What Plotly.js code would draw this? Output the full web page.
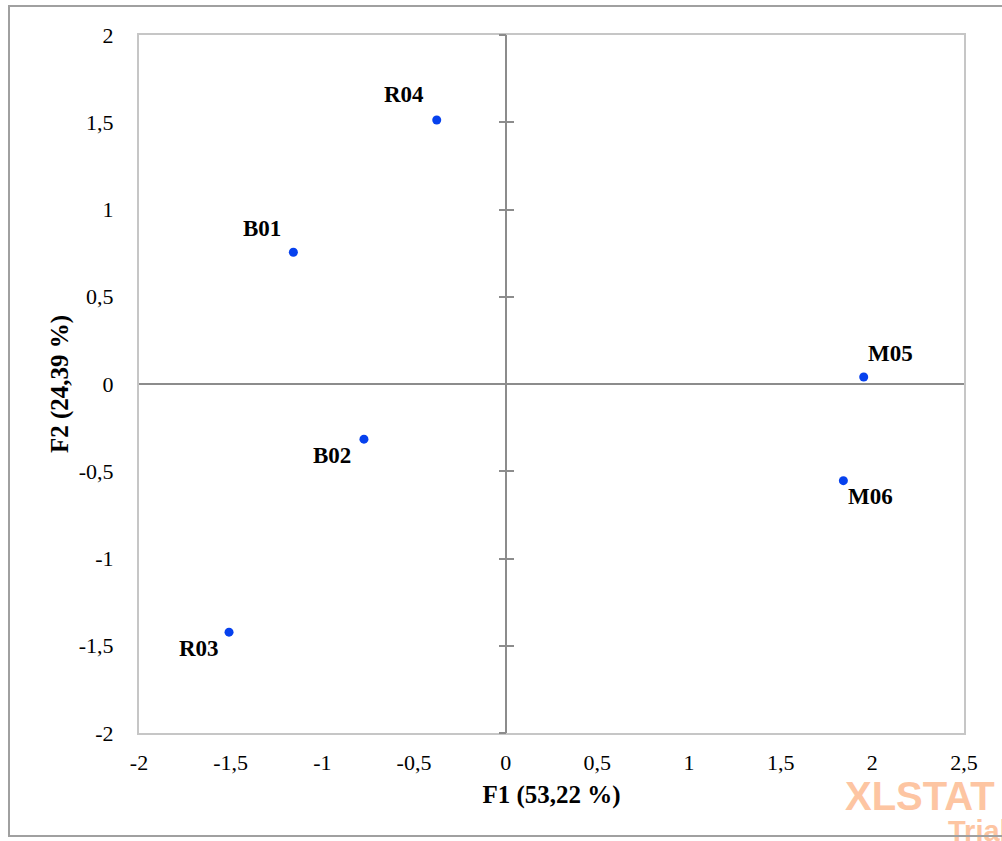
<!DOCTYPE html>
<html>
<head>
<meta charset="utf-8">
<script src="https://cdn.plot.ly/plotly-3.0.1.min.js"></script>
<style>
  html, body { margin: 0; padding: 0; background: #fff; }
  #frame { position: absolute; left: 8px; top: 5px; width: 1000px; height: 832px; border: 2px solid #a0a0a0; box-sizing: border-box; pointer-events: none; z-index: 2; }
  #chart { position: absolute; left: 0; top: 0; width: 1002px; height: 841px; }
</style>
</head>
<body>
<div id="chart"></div>
<div id="frame"></div>
<script>
// ---- data ----
const obsLabels = ["R04", "B01", "M05", "B02", "M06", "R03"];
const f1Values  = [-0.376, -1.158, 1.953, -0.773, 1.842, -1.509];
const f2Values  = [1.513, 0.755, 0.040, -0.316, -0.554, -1.422];

const xRange = [-2, 2.5];
const yRange = [-2, 2];
const xTickVals = [-2, -1.5, -1, -0.5, 0, 0.5, 1, 1.5, 2, 2.5];
const xTickText = ["-2", "-1,5", "-1", "-0,5", "0", "0,5", "1", "1,5", "2", "2,5"];
const yTickVals = [-2, -1.5, -1, -0.5, 0, 0.5, 1, 1.5, 2];
const yTickText = ["-2", "-1,5", "-1", "-0,5", "0", "0,5", "1", "1,5", "2"];

const xTitle = "F1 (53,22 %)";
const yTitle = "F2 (24,39 %)";

// ---- label placement (style) ----
const labelShiftX = [-33, -31, 27, -32, 27, -30];
const labelShiftY = [25, 24, 24, -16, -16, -16];

const serif = "Liberation Serif, Times New Roman, serif";
const zeroPos = (0 - xRange[0]) / (xRange[1] - xRange[0]);

const traces = [
  {
    type: "scatter", mode: "markers",
    x: f1Values, y: f2Values,
    marker: { color: "#0641ee", size: 9 },
    hoverinfo: "skip", showlegend: false
  },
  { type: "scatter", mode: "markers", x: [], y: [], yaxis: "y2", showlegend: false, hoverinfo: "skip" },
  { type: "scatter", mode: "markers", x: [], y: [], yaxis: "y3", showlegend: false, hoverinfo: "skip" }
];

const annotations = obsLabels.map((t, i) => ({
  x: f1Values[i], y: f2Values[i], xref: "x", yref: "y",
  text: "<b>" + t + "</b>", showarrow: false,
  xanchor: "center", yanchor: "middle",
  xshift: labelShiftX[i], yshift: labelShiftY[i],
  font: { family: serif, size: 23, color: "#000" }
}));

annotations.push({
  xref: "paper", yref: "paper", x: 0.853, y: -0.056, xanchor: "left", yanchor: "top",
  text: "<b>XLSTAT</b>", showarrow: false,
  font: { family: "Liberation Sans, Arial, sans-serif", size: 40, color: "#fdc5a2" }
});
annotations.push({
  xref: "paper", yref: "paper", x: 0.978, y: -0.115, xanchor: "left", yanchor: "top",
  text: "<b>Trial</b>", showarrow: false,
  font: { family: "Liberation Sans, Arial, sans-serif", size: 29, color: "#fdc5a2" }
});

const centerTickAxis = (dir) => ({
  overlaying: "y", anchor: "free", position: zeroPos,
  range: yRange, tickvals: yTickVals, showticklabels: false,
  ticks: dir, ticklen: 7, tickwidth: 2, tickcolor: "#8c8c8c",
  showgrid: false, zeroline: false, showline: false, fixedrange: true
});

const layout = {
  width: 1002, height: 841,
  margin: { l: 139, r: 38, t: 35, b: 108 },
  paper_bgcolor: "#fff", plot_bgcolor: "#fff",
  showlegend: false,
  font: { family: serif, color: "#000" },
  xaxis: {
    range: xRange, tickvals: xTickVals, ticktext: xTickText,
    ticks: "", ticklabelstandoff: 9,
    tickfont: { family: serif, size: 22, color: "#000" },
    showgrid: false,
    zeroline: true, zerolinecolor: "#8c8c8c", zerolinewidth: 2,
    showline: true, mirror: true, linecolor: "#c6c6c6", linewidth: 2,
    title: { text: "<b>" + xTitle + "</b>", standoff: 11, font: { family: serif, size: 25, color: "#000" } },
    automargin: false, fixedrange: true
  },
  yaxis: {
    range: yRange, tickvals: yTickVals, ticktext: yTickText,
    ticks: "", ticklabelstandoff: 19,
    tickfont: { family: serif, size: 22, color: "#000" },
    showgrid: false,
    zeroline: true, zerolinecolor: "#8c8c8c", zerolinewidth: 2,
    showline: true, mirror: true, linecolor: "#c6c6c6", linewidth: 2,
    title: { text: "<b>" + yTitle + "</b>", standoff: 3, font: { family: serif, size: 25, color: "#000" } },
    automargin: false, fixedrange: true
  },
  yaxis2: centerTickAxis("outside"),
  yaxis3: centerTickAxis("inside"),
  annotations: annotations
};

Plotly.newPlot("chart", traces, layout, { displayModeBar: false, staticPlot: true });
</script>
</body>
</html>
